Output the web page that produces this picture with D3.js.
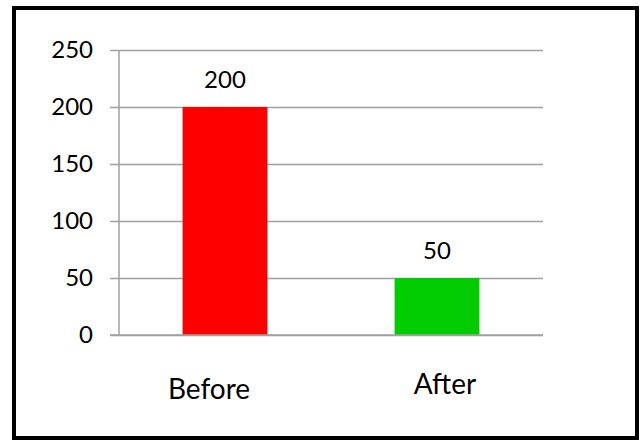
<!DOCTYPE html>
<html>
<head>
<meta charset="utf-8">
<script src="https://cdn.jsdelivr.net/npm/d3@7"></script>
<style>
  html, body { margin: 0; padding: 0; background: #fff; }
  svg { display: block; }
  text { font-family: Lato, "Open Sans", sans-serif; fill: #000; }
</style>
</head>
<body>
<svg id="chart" width="644" height="440"></svg>
<script>
const categories = ["Before", "After"];
const values = [200, 50];
const barColors = ["#ff0000", "#00cc00"];
const tickValues = [0, 50, 100, 150, 200, 250];

const svg = d3.select("#chart");
const W = 644, H = 440;
const plot = { left: 119, right: 543, top: 50, bottom: 335 };

// outer frame
svg.append("rect")
  .attr("x", 14).attr("y", 8)
  .attr("width", 623).attr("height", 430)
  .attr("fill", "#fff")
  .attr("stroke", "#000")
  .attr("stroke-width", 4);

const x = d3.scaleBand()
  .domain(categories)
  .range([plot.left, plot.right])
  .paddingInner(0.6)
  .paddingOuter(0.3);

const y = d3.scaleLinear()
  .domain([0, 250])
  .range([plot.bottom, plot.top]);

// gridlines + y axis
const yAxis = d3.axisLeft(y)
  .tickValues(tickValues)
  .tickSize(-(plot.right - plot.left))
  .tickPadding(26)
  .tickFormat(d3.format("d"));

const gy = svg.append("g")
  .attr("transform", `translate(${plot.left},0)`)
  .call(yAxis);
gy.select(".domain").remove();
gy.selectAll(".tick line")
  .attr("x1", -9)
  .attr("stroke", "#a0a0a0")
  .attr("stroke-width", 1.5);
gy.selectAll(".tick text")
  .attr("font-size", 24)
  .attr("font-family", "Lato, 'Open Sans', sans-serif")
  .attr("fill", "#000");

// vertical axis line
svg.append("line")
  .attr("x1", plot.left).attr("x2", plot.left)
  .attr("y1", y(250)).attr("y2", y(0))
  .attr("stroke", "#a0a0a0")
  .attr("stroke-width", 1.5);

// bars
svg.selectAll("rect.bar")
  .data(categories)
  .join("rect")
  .attr("class", "bar")
  .attr("x", d => x(d))
  .attr("width", x.bandwidth())
  .attr("y", (d, i) => y(values[i]))
  .attr("height", (d, i) => y(0) - y(values[i]))
  .attr("fill", (d, i) => barColors[i]);

// redraw baseline over bars
svg.append("line")
  .attr("x1", plot.left - 9).attr("x2", plot.right)
  .attr("y1", y(0)).attr("y2", y(0))
  .attr("stroke", "#a0a0a0")
  .attr("stroke-width", 1.5);

// value labels
svg.selectAll("text.val")
  .data(categories)
  .join("text")
  .attr("class", "val")
  .attr("x", d => x(d) + x.bandwidth() / 2)
  .attr("y", (d, i) => y(values[i]) - 19)
  .attr("text-anchor", "middle")
  .attr("font-size", 24)
  .text((d, i) => values[i]);

// category labels (placed slightly off-center as in the reference)
const labelDx = [-16, 8];
const labelDy = [399, 394];
svg.selectAll("text.cat")
  .data(categories)
  .join("text")
  .attr("class", "cat")
  .attr("x", (d, i) => x(d) + x.bandwidth() / 2 + labelDx[i])
  .attr("y", (d, i) => labelDy[i])
  .attr("text-anchor", "middle")
  .attr("font-size", 28)
  .text(d => d);
</script>
</body>
</html>
